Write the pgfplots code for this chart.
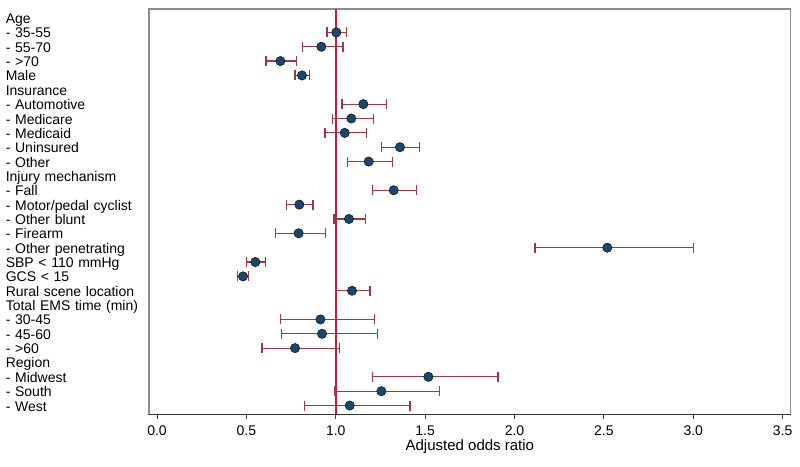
\documentclass[border=0pt]{standalone}
\usepackage{pgfplots}
\pgfplotsset{compat=1.18}
\usepackage{pgfplotstable}
\usepackage{fontspec}
\setmainfont{Liberation Sans}
\definecolor{navy}{RGB}{26,71,111}
\definecolor{errc}{RGB}{154,58,72}
\definecolor{refc}{RGB}{190,30,60}

\pgfplotstableread{
y or lo hi
27 1.003 0.951 1.059
26 0.919 0.815 1.040
25 0.690 0.610 0.779
24 0.811 0.772 0.852
22 1.154 1.035 1.285
21 1.087 0.981 1.210
20 1.050 0.940 1.173
19 1.359 1.257 1.467
18 1.184 1.066 1.318
16 1.324 1.204 1.452
15 0.796 0.725 0.873
14 1.074 0.990 1.165
13 0.792 0.664 0.942
12 2.519 2.114 3.000
11 0.550 0.500 0.606
10 0.481 0.449 0.513
9  1.091 1.000 1.191
7  0.914 0.690 1.218
6  0.923 0.695 1.234
5  0.772 0.587 1.022
3  1.518 1.204 1.907
2  1.255 0.996 1.581
1  1.078 0.826 1.415
}\data

\begin{document}
\begin{tikzpicture}
\useasboundingbox (-149pt,-51.7pt) rectangle (651pt,414.3pt);
\begin{axis}[
  at={(0,0)}, anchor=south west,
  scale only axis, width=641.7pt, height=405.3pt,
  xmin=-0.045, xmax=3.545, ymin=0.39, ymax=28.63,
  xtick={0,0.5,...,3.5},
  xtick pos=bottom, tick align=outside, major tick length=5pt,
  x tick style={black!75, line width=1pt},
  ytick={1,...,28},
  yticklabels={- West,- South,- Midwest,Region,- >60,- 45-60,- 30-45,Total EMS time (min),Rural scene location,GCS < 15,SBP < 110 mmHg,- Other penetrating,- Firearm,- Other blunt,- Motor/pedal cyclist,- Fall,Injury mechanism,- Other,- Uninsured,- Medicaid,- Medicare,- Automotive,Insurance,Male,- >70,- 55-70,- 35-55,Age},
  ytick style={draw=none},
  yticklabel style={anchor=east, inner sep=0pt, text width=138pt, align=left,
    font=\fontsize{14}{16}\selectfont, text height=13pt, text depth=2pt},
  xticklabel style={font=\fontsize{14}{16}\selectfont, yshift=-3pt,
    /pgf/number format/.cd, fixed, fixed zerofill, precision=1, assume math mode=true},
  axis line style={black!45, line width=1.1pt},
  xlabel={Adjusted odds ratio},
  xlabel style={font=\fontsize{15}{18}\selectfont, yshift=2.5pt},
  clip=false,
]
\addplot[draw=refc, line width=1.5pt, mark=none] coordinates {(1,0.39) (1,28.63)};
\addplot[draw=none, mark=none, forget plot,
  error bars/.cd, x dir=both, x explicit, error mark=|,
  error bar style={draw=errc, line width=1.25pt},
  error mark options={draw=errc, mark size=5pt, line width=1.25pt, rotate=0}]
  table[x=or, y=y, x error plus expr=\thisrow{hi}-\thisrow{or}, x error minus expr=\thisrow{or}-\thisrow{lo}] {\data};
\addplot[only marks, mark=*, mark size=4.7pt, mark options={draw=none, fill=navy}]
  table[x=or, y=y] {\data};
\draw[black!80, line width=1.1pt] (rel axis cs:0,0) -- (rel axis cs:1,0);
\end{axis}
\end{tikzpicture}
\end{document}
